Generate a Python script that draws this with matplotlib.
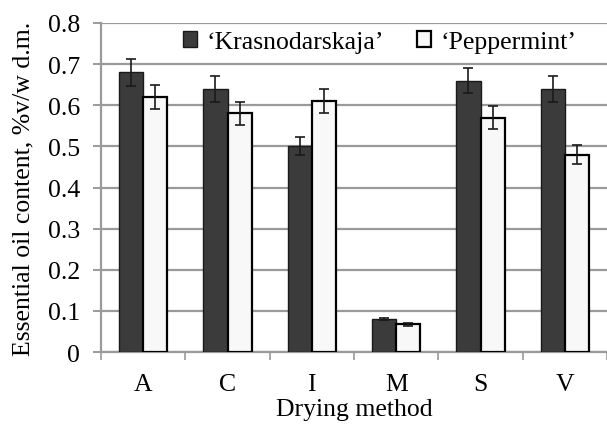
import matplotlib
matplotlib.use("Agg")
import matplotlib.pyplot as plt
import numpy as np

categories = ["A", "C", "I", "M", "S", "V"]
krasnodarskaja = [0.68, 0.64, 0.50, 0.08, 0.66, 0.64]
krasnodarskaja_err = [0.033, 0.032, 0.022, 0.003, 0.030, 0.032]
peppermint = [0.62, 0.58, 0.61, 0.067, 0.57, 0.48]
peppermint_err = [0.030, 0.028, 0.030, 0.004, 0.028, 0.023]
yticks = [0, 0.1, 0.2, 0.3, 0.4, 0.5, 0.6, 0.7, 0.8]
ytick_labels = ["0", "0.1", "0.2", "0.3", "0.4", "0.5", "0.6", "0.7", "0.8"]

plt.rcParams['font.family'] = ['Liberation Serif', 'DejaVu Serif']

fig = plt.figure(figsize=(6.07, 4.27), dpi=100)
ax = fig.add_axes([101/607, 1 - 353/427, 1 - 101/607, (353 - 24)/427])

x = np.arange(len(categories))
w = 0.286
grid_col = "#9a9a9a"

ax.bar(x - w/2, krasnodarskaja, w, color="#3b3b3b", edgecolor="#1a1a1a", linewidth=1.0,
       yerr=krasnodarskaja_err, error_kw=dict(ecolor="#1a1a1a", elinewidth=1.2, capsize=3.5, capthick=1.2),
       label="\u2018Krasnodarskaja\u2019", zorder=3)
ax.bar(x + w/2, peppermint, w, color="#f8f8f8", edgecolor="#000000", linewidth=1.6,
       yerr=peppermint_err, error_kw=dict(ecolor="#1a1a1a", elinewidth=1.2, capsize=3.5, capthick=1.2),
       label="\u2018Peppermint\u2019", zorder=3)

ax.set_xlim(-0.5, len(categories) - 0.5)
ax.set_ylim(0, 0.8)
ax.set_yticks(yticks)
ax.set_yticklabels(ytick_labels, fontsize=18.5)
ax.yaxis.grid(True, color=grid_col, linewidth=1.6, zorder=0)
ax.set_axisbelow(True)

# x ticks at category boundaries, labels at centers
ax.set_xticks(np.arange(len(categories) + 1) - 0.5)
ax.set_xticklabels([])
ax.set_xticks(x, minor=True)
ax.set_xticklabels(categories, minor=True, fontsize=18.5)
ax.tick_params(axis='x', which='major', direction='out', length=6, width=1.2, color=grid_col)
ax.tick_params(axis='x', which='minor', length=0, pad=15)
ax.tick_params(axis='y', direction='out', length=6, width=1.4, color=grid_col, pad=9)

for s in ["top", "right"]:
    ax.spines[s].set_visible(False)
for s in ["left", "bottom"]:
    ax.spines[s].set_color(grid_col)
    ax.spines[s].set_linewidth(1.6)

ax.set_ylabel("Essential oil content, %v/w d.m.", fontsize=18.5)
ax.yaxis.set_label_coords(-0.131, 0.5)
ax.set_xlabel("Drying method", fontsize=18.5)
ax.xaxis.set_label_coords(0.5, -0.14)

leg = ax.legend(loc="upper center", bbox_to_anchor=(0.551, 1.045), ncol=2, frameon=False,
                fontsize=18.5, handlelength=0.55, handleheight=0.55, handletextpad=0.35,
                columnspacing=1.3)

fig.savefig("out.png", dpi=100)
